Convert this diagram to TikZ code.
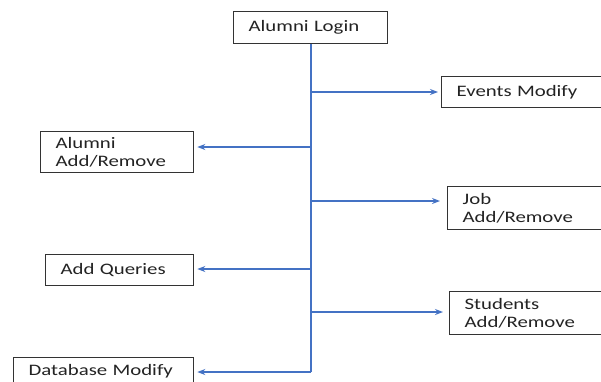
\documentclass[tikz,border=0pt]{standalone}
\usepackage{fontspec}
\setmainfont{Carlito}[FakeStretch=1.3]
\usetikzlibrary{arrows.meta}
\definecolor{lineblue}{RGB}{68,114,196}
\definecolor{txt}{RGB}{35,35,35}
\tikzset{
  box/.style={draw=black!80, line width=1.3pt, rectangle, anchor=north west, inner xsep=15pt, inner ysep=0pt,
    align=left, text=txt, font=\fontsize{16}{18}\selectfont},
  link/.style={draw=lineblue, line width=1.4pt},
  arr/.style={link, -{Stealth[length=8pt,width=6pt]}, shorten >=3pt}
}
\begin{document}
\begin{tikzpicture}[x=1pt,y=-1pt]
\clip (0,0) rectangle (601,381);
\fill[white] (0,0) rectangle (601,381);
% boxes
\node[box, minimum width=154pt, minimum height=32pt, text width=124pt] (login) at (233,11) {Alumni Login};
\node[box, minimum width=170pt, minimum height=31pt, text width=140pt] (ev) at (441,76) {Events Modify};
\node[box, minimum width=153pt, minimum height=41pt, text width=123pt] (al) at (40,131) {Alumni\\Add/Remove};
\node[box, minimum width=165pt, minimum height=43pt, text width=135pt] (job) at (447,186) {Job\\Add/Remove};
\node[box, minimum width=148pt, minimum height=31pt, text width=118pt] (qu) at (45,254) {Add Queries};
\node[box, minimum width=165pt, minimum height=43pt, text width=135pt] (st) at (449,291) {Students\\Add/Remove};
\node[box, minimum width=180pt, minimum height=28pt, text width=150pt] (db) at (13,357) {Database Modify};
% spine coordinates
\coordinate (s1) at (311,92);
\coordinate (s2) at (311,147);
\coordinate (s3) at (311,201);
\coordinate (s4) at (311,269);
\coordinate (s5) at (311,312);
\coordinate (s6) at (311,372);
% spine and arrows
\draw[link] (login.south -| s1) -- (s6);
\draw[arr] (s6) -- (s6 -| db.east);
\draw[arr] (s1) -- (s1 -| ev.west);
\draw[arr] (s2) -- (s2 -| al.east);
\draw[arr, shorten >=7pt] (s3) -- (s3 -| job.west);
\draw[arr] (s4) -- (s4 -| qu.east);
\draw[arr, shorten >=6pt] (s5) -- (s5 -| st.west);
\end{tikzpicture}
\end{document}
